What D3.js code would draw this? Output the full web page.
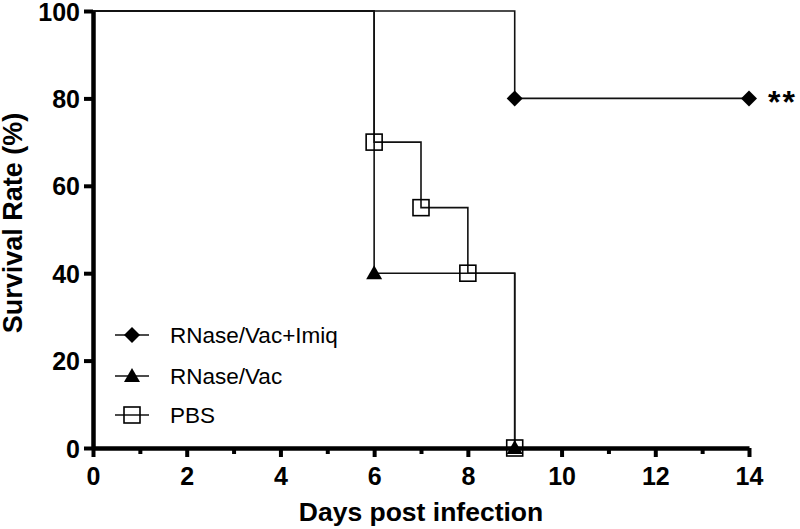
<!DOCTYPE html>
<html><head><meta charset="utf-8">
<script src="https://cdn.jsdelivr.net/npm/d3@7"></script>
<style>body{margin:0;background:#fff}svg{display:block}</style>
</head><body><svg id="c" width="800" height="529"></svg>
<script>
const seriesNames = ["RNase/Vac+Imiq", "RNase/Vac", "PBS"];
const imiqDays = [0, 9, 14];
const imiqSurv = [100, 80, 80];
const imiqMarkDays = [9, 14];
const imiqMarkSurv = [80, 80];
const vacDays = [0, 6, 9];
const vacSurv = [100, 40, 0];
const vacMarkDays = [6, 9];
const vacMarkSurv = [40, 0];
const pbsDays = [0, 6, 7, 8, 9];
const pbsSurv = [100, 70, 55, 40, 0];
const pbsMarkDays = [6, 7, 8, 9];
const pbsMarkSurv = [70, 55, 40, 0];
const xTicks = [0, 2, 4, 6, 8, 10, 12, 14];
const xMinor = [1, 3, 5, 7, 9, 11, 13];
const yTicks = [0, 20, 40, 60, 80, 100];

const svg = d3.select("#c");
const x = d3.scaleLinear().domain([0, 14]).range([93, 749]);
const y = d3.scaleLinear().domain([0, 100]).range([448, 11]);
const font = "'Liberation Sans', Arial, sans-serif";

// lines
const line = d3.line().x(d => x(d[0])).y(d => y(d[1])).curve(d3.curveStepAfter);
const zip = (a, b) => a.map((v, i) => [v, b[i]]);
[[imiqDays, imiqSurv], [vacDays, vacSurv], [pbsDays, pbsSurv]].forEach(([d, s]) => {
  svg.append("path").attr("d", line(zip(d, s))).attr("fill", "none")
    .attr("stroke", "#111").attr("stroke-width", 1.6);
});

// axes
const xAxis = svg.append("g").attr("transform", "translate(0,448)")
  .call(d3.axisBottom(x).tickValues(xTicks).tickSize(9).tickSizeOuter(0).tickFormat(d3.format("d")));
svg.append("g").attr("transform", "translate(0,448)")
  .call(d3.axisBottom(x).tickValues(xMinor).tickSize(6).tickSizeOuter(0).tickFormat(""))
  .call(g => g.select(".domain").remove())
  .selectAll("line").attr("stroke", "#000").attr("stroke-width", 4);
const yAxis = svg.append("g").attr("transform", "translate(93,0)")
  .call(d3.axisLeft(y).tickValues(yTicks).tickSize(9).tickSizeOuter(0).tickFormat(d3.format("d")));
[xAxis, yAxis].forEach(g => {
  g.select(".domain").attr("stroke", "#000").attr("stroke-width", 4.5);
  g.selectAll(".tick line").attr("stroke", "#000").attr("stroke-width", 4);
  g.selectAll(".tick text").attr("font-family", font).attr("font-weight", "bold")
    .attr("font-size", 25).attr("fill", "#000");
});
xAxis.selectAll(".tick text").attr("dy", null).attr("y", 37);
yAxis.selectAll(".tick text").attr("x", -13).attr("dy", "0.36em");

// markers
function drawDiamond(cx, cy) {
  svg.append("path").attr("d", d3.symbol().type(d3.symbolSquare).size(128)())
    .attr("transform", `translate(${cx},${cy}) rotate(45)`).attr("fill", "#000");
}
function drawTri(cx, cy) {
  svg.append("path").attr("d", `M${cx},${cy-8}L${cx+8},${cy+6}L${cx-8},${cy+6}Z`).attr("fill", "#000");
}
function drawSq(cx, cy) {
  svg.append("rect").attr("x", cx - 8).attr("y", cy - 8).attr("width", 16).attr("height", 16)
    .attr("fill", "none").attr("stroke", "#000").attr("stroke-width", 1.6);
}
imiqMarkDays.forEach((d, i) => drawDiamond(x(d), y(imiqMarkSurv[i])));
vacMarkDays.forEach((d, i) => drawTri(x(d), y(vacMarkSurv[i])));
pbsMarkDays.forEach((d, i) => drawSq(x(d), y(pbsMarkSurv[i])));

// significance
svg.append("text").attr("x", 768).attr("y", 113).text("**")
  .attr("font-family", font).attr("font-weight", "bold").attr("font-size", 32)
  .attr("letter-spacing", 2);

// titles
svg.append("text").attr("x", x(7)).attr("y", 521).attr("text-anchor", "middle").text("Days post infection")
  .attr("font-family", font).attr("font-weight", "bold").attr("font-size", 26.5);
svg.append("text").attr("transform", `translate(22,223) rotate(-90)`).attr("text-anchor", "middle")
  .text("Survival Rate (%)").attr("font-family", font).attr("font-weight", "bold").attr("font-size", 27);

// legend
const legY = [335, 376, 415];
const drawers = [drawDiamond, drawTri, drawSq];
seriesNames.forEach((n, i) => {
  svg.append("line").attr("x1", 115).attr("x2", 149).attr("y1", legY[i]).attr("y2", legY[i])
    .attr("stroke", "#111").attr("stroke-width", 1.6);
  drawers[i](132, legY[i]);
  svg.append("text").attr("x", 170).attr("y", legY[i] + 8).text(n)
    .attr("font-family", font).attr("font-size", 22.5);
});
</script></body></html>
